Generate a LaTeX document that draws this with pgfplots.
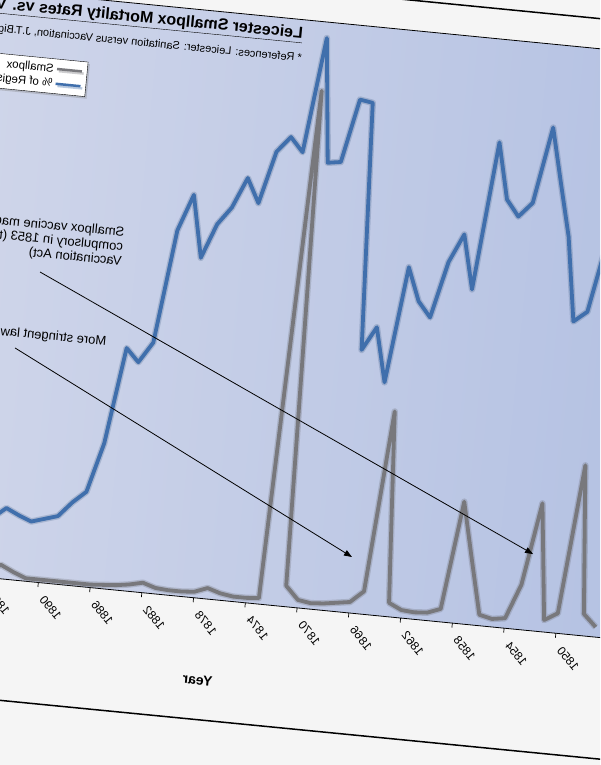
\documentclass[border=0pt]{standalone}
\usepackage{pgfplots}
\pgfplotsset{compat=1.18}
\usepackage{fontspec}
\setmainfont{Liberation Sans}
\usetikzlibrary{arrows.meta,shadows}
\definecolor{pagebg}{RGB}{245,245,245}
\definecolor{plotdark}{RGB}{178,192,226}
\definecolor{plotlight}{RGB}{208,214,234}
\definecolor{vacblue}{RGB}{64,111,172}
\definecolor{poxgray}{RGB}{120,120,124}
\pgfplotstableread{
year pox
1847 10
1848 22
1849 170
1850 20
1851 12
1852 128
1853 45
1854 10
1855 8
1856 11
1857 66
1858 122
1859 13
1860 8
1861 7
1862 8
1863 14
1864 205
1865 23
1866 11
1867 9
1868 7
1869 6
1870 8
1871 21
1872 517
1873 6
1874 5
1875 5
1876 7
1877 11
1878 6
1879 5
1880 5
1881 6
1882 10
1883 7
1884 5
1885 4
1886 3
1887 3
1888 3
1889 3
1890 3
1891 3
1892 8
1893 14
1894 5
}\poxtable
\pgfplotstableread{
year vac
1848 400
1849 395
1850 323
1851 312
1852 396
1853 449
1854 503
1855 426
1856 411
1857 427
1858 483
1859 334
1860 388
1861 359
1862 302
1863 317
1864 350
1865 233
1866 287
1867 263
1868 510
1869 512
1870 448
1871 446
1872 570
1873 454
1874 468
1875 452
1876 399
1877 423
1878 392
1879 374
1880 339
1881 401
1882 364
1883 250
1884 229
1885 242
1886 145
1887 95
1888 83
1889 68
1890 64
1891 60
1892 65
1893 71
1894 60
}\vactable
\begin{document}
\begin{tikzpicture}
\useasboundingbox (0,0) rectangle (600pt,765pt);
\fill[pagebg] (0,0) rectangle (600pt,765pt);
\clip (0,0) rectangle (600pt,765pt);
\begin{scope}[overlay, transform canvas={cm={-0.99523,0.09758,0.09758,0.99523,(0pt,765pt)}}]
\begin{axis}[
  at={(-745pt,-576pt)}, anchor=south west,
  scale only axis, width=780pt, height=586pt,
  xmin=1840, xmax=1900, ymin=0, ymax=586,
  clip=false,
  axis background/.style={left color=plotdark, right color=plotlight},
  xtick={1842,1846,...,1898},
  minor x tick num=3,
  ytick=\empty,
  xtick pos=bottom,
  tick align=outside,
  major tick length=4.5pt, minor tick length=4.5pt,
  every tick/.style={black, line width=0.7pt},
  axis line style={line width=0.8pt},
  /pgf/number format/1000 sep={},
  /pgf/number format/assume math mode=true,
  xticklabel style={xshift=-5pt, yshift=-10pt, rotate=45, anchor=east, inner sep=0pt, font=\fontsize{12}{14}\selectfont},
  xlabel={Year},
  xlabel style={at={(axis description cs:0.618,-0.139)}, anchor=center, font=\bfseries\fontsize{14}{16}\selectfont},
  legend style={at={(axis description cs:0.8347,0.8925)}, anchor=north west, draw=black, fill=white, font=\fontsize{11.5}{13}\selectfont, inner xsep=4pt, inner ysep=3pt, row sep=1pt, drop shadow={shadow xshift=-2pt, shadow yshift=-2pt, opacity=0.35}},
  legend cell align=left,
  legend image code/.code={\draw[#1] (0pt,0pt) -- (25pt,0pt);},
  legend image post style={line width=2.5pt},
]
\addplot[poxgray!70!black, opacity=0.22, line width=6.5pt, line join=round, forget plot] table[x=year, y=pox] {\poxtable};
\addplot[vacblue!70!black, opacity=0.22, line width=6.5pt, line join=round, forget plot] table[x=year, y=vac] {\vactable};
\addplot[poxgray, line width=3.8pt, line join=round] table[x=year, y=pox] {\poxtable};
\addlegendentry{Smallpox}
\addplot[vacblue, line width=3.8pt, line join=round] table[x=year, y=vac] {\vactable};
\addlegendentry{\% of Registered Births Vaccinated}
\node[anchor=base west, inner sep=0pt, font=\bfseries\fontsize{16}{19}\selectfont] at (axis cs:1873.86,567.5) {\underline{Leicester Smallpox Mortality Rates vs. Vaccination Rates}};
\node[anchor=base west, inner sep=0pt, font=\fontsize{11}{13}\selectfont] at (axis cs:1873.75,544) {* References: Leicester: Sanitation versus Vaccination, J.T.Biggs (1912)};
\node[anchor=north west, align=left, inner sep=0pt, font=\fontsize{13}{14.5}\selectfont] at (axis cs:1886.03,362.3) {Smallpox vaccine made\\compulsory in 1853 (the\\Vaccination Act)};
\node[anchor=north west, inner sep=0pt, font=\fontsize{13}{14.5}\selectfont] at (axis cs:1886.59,252) {More stringent laws};
\draw[line width=0.8pt, -{Triangle[length=8pt,width=6pt]}] (axis cs:1892.2,309.2) -- (axis cs:1852.34,76.6);
\draw[line width=0.8pt, -{Triangle[length=8pt,width=6pt]}] (axis cs:1893.55,231.2) -- (axis cs:1866.18,56);
\draw[line width=1.5pt] (axis cs:1830,616) -- (axis cs:1910,616);
\draw[line width=1.5pt] (axis cs:1830,-121) -- (axis cs:1910,-121);
\end{axis}
\end{scope}
\end{tikzpicture}
\end{document}
